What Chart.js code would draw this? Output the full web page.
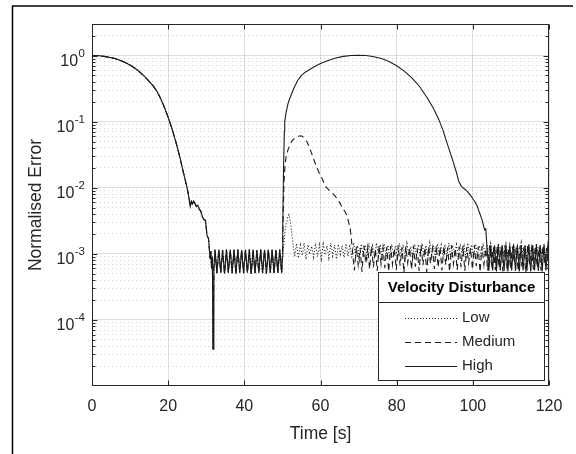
<!DOCTYPE html>
<html><head><meta charset="utf-8">
<script src="https://cdn.jsdelivr.net/npm/chart.js@4.4.1/dist/chart.umd.min.js"></script>
<style>html,body{margin:0;padding:0;background:#fff;overflow:hidden}</style>
</head><body>
<canvas id="c" width="576" height="454" style="display:block;width:576px;height:454px"></canvas>
<script>
// ---------------- DATA ----------------
const seriesNames = ['Low', 'Medium', 'High'];
const legendTitle = 'Velocity Disturbance';
const xTitle = 'Time [s]';
const yTitle = 'Normalised Error';
const xMin = 0, xMax = 120, xStep = 20;
const yMin = 1e-5, yMax = 3;
const yTickValues = [1, 1e-1, 1e-2, 1e-3, 1e-4];
const yTickExponents = ['0', '-1', '-2', '-3', '-4'];

// common part of all three runs (0 - 50 s)
const sharedT = [0,2,4,6,8,10,12,14,16,17,18,19,20,21,22,23,24,25,25.5,25.8,26.1,26.4,26.7,27,27.4,27.8,28.2,28.6,29,29.4,29.8,30.2,30.6,31,31.2,31.4,31.6,31.8,32.0,
 32.3,32.8,33.3,33.8,34.3,34.8,35.3,35.8,36.3,36.8,37.3,37.8,38.3,38.8,39.3,39.8,40.3,40.8,41.3,41.8,42.3,42.8,43.3,43.8,44.3,44.8,45.3,45.8,46.3,46.8,47.3,47.8,48.3,48.8,49.3,49.8];
const sharedV = [1.0,0.99,0.955,0.9,0.82,0.72,0.6,0.47,0.35,0.29,0.225,0.165,0.116,0.078,0.05,0.03,0.017,0.0098,0.0068,0.0052,0.0062,0.0057,0.0063,0.0058,0.0052,0.0054,0.0047,0.0044,0.0036,0.0033,0.0032,0.0019,0.0017,0.00085,0.0011,0.0006,0.0009,0.000036,0.0006,
 1.15e-3,5.1e-4,1.16e-3,5.2e-4,1.14e-3,5.0e-4,1.16e-3,5.2e-4,1.15e-3,5.1e-4,1.15e-3,5.0e-4,1.16e-3,5.2e-4,1.14e-3,5.1e-4,1.15e-3,5.2e-4,1.16e-3,5.0e-4,1.15e-3,5.1e-4,1.14e-3,5.2e-4,1.16e-3,5.1e-4,1.15e-3,5.0e-4,1.16e-3,5.2e-4,1.15e-3,5.1e-4,1.14e-3,5.2e-4,1.16e-3,5.1e-4];

// Low disturbance (after 50 s)
const lowT = [50.0,50.3,50.6,51,51.4,51.7,52,52.4,52.8,53.2,
 53.7,54.2,54.7,55.2,55.7,56.2,56.7,57.2,57.7,58.2,58.7,59.2,59.7,60.2,60.7,61.2,61.7,62.2,62.7,63.2,63.7,64.2,64.7,65.2,65.7,66.2,66.7,67.2,67.7,68.2,68.7,69.2,69.7,70.2,70.7,71.2,71.7,72.2,72.7,73.2,73.7,74.2,74.7,75.2,75.7,76.2,76.7,77.2,77.7,78.2,78.7,79.2,79.7,80.2,80.7,81.2,81.7,82.2,82.7,83.2,83.7,84.2,84.7,85.2,85.7,86.2,86.7,87.2,87.7,88.2,88.7,89.2,89.7,90.2,90.7,91.2,91.7,92.2,92.7,93.2,93.7,94.2,94.7,95.2,95.7,96.2,96.7,97.2,97.7,98.2,98.7,99.2,99.7,100.2,100.7,101.2,101.7,102.2,102.7,103.2,103.7,104.2,104.7,105.2,105.7,106.2,106.7,107.2,107.7,108.2,108.7,109.2,109.7,110.2,110.7,111.2,111.7,112.2,112.7,113.2,113.7,114.2,114.7,115.2,115.7,116.2,116.7,117.2,117.7,118.2,118.7,119.2,119.7];
const lowV = [0.0009,0.0013,0.0019,0.0029,0.0036,0.0039,0.0033,0.0022,0.0014,0.0009,
 1.42e-3,8.6e-4,1.35e-3,9.4e-4,1.46e-3,8.2e-4,1.38e-3,9.8e-4,
 1.30e-3,8.9e-4,1.44e-3,9.1e-4,1.37e-3,8.4e-4,1.41e-3,9.6e-4,
 1.33e-3,8.7e-4,1.45e-3,9.3e-4,1.36e-3,8.3e-4,1.40e-3,9.9e-4,
 1.32e-3,8.8e-4,1.43e-3,9.2e-4,1.39e-3,8.5e-4,1.47e-3,9.5e-4,
 1.34e-3,8.1e-4,1.41e-3,9.7e-4,1.36e-3,8.6e-4,1.44e-3,9.0e-4,
 1.31e-3,8.4e-4,1.46e-3,9.4e-4,1.38e-3,8.8e-4,1.42e-3,9.2e-4,
 1.35e-3,8.3e-4,1.40e-3,9.8e-4,1.33e-3,8.7e-4,1.45e-3,9.1e-4,
 1.37e-3,8.5e-4,1.43e-3,9.6e-4,1.30e-3,8.2e-4,1.41e-3,9.3e-4,
 1.39e-3,8.9e-4,1.44e-3,9.0e-4,1.34e-3,8.6e-4,1.47e-3,9.7e-4,
 1.32e-3,8.4e-4,1.42e-3,9.5e-4,1.36e-3,8.8e-4,1.40e-3,9.2e-4,
 1.45e-3,8.1e-4,1.35e-3,9.9e-4,1.38e-3,8.7e-4,1.43e-3,9.1e-4,
 1.31e-3,8.5e-4,1.46e-3,9.4e-4,1.37e-3,8.3e-4,1.41e-3,9.6e-4,
 1.34e-3,8.8e-4,1.44e-3,9.2e-4,1.39e-3,8.6e-4,1.42e-3,9.0e-4,
 1.33e-3,8.2e-4,1.45e-3,9.7e-4,1.36e-3,8.9e-4,1.40e-3,9.3e-4,
 1.38e-3,8.4e-4,1.43e-3,9.5e-4,1.32e-3,8.7e-4,1.47e-3,9.1e-4,
 1.35e-3,8.6e-4,1.41e-3,9.8e-4,1.37e-3,8.3e-4,1.44e-3,9.4e-4,
 1.36e-3,8.8e-4,1.42e-3,9.0e-4,1.39e-3];

// Medium disturbance (after 50 s)
const medT = [50.0,50.2,50.4,50.7,51,51.5,52,52.6,53.2,54,54.6,55.2,55.8,56.4,57,57.6,58.2,58.8,59.4,60,60.5,61,61.5,62,62.6,63.2,63.8,64.4,65,65.5,66,66.5,67,67.4,67.8,68.1,68.4,
 68.9,69.4,69.9,70.4,70.9,71.4,71.9,72.4,72.9,73.4,73.9,74.4,74.9,75.4,75.9,76.4,76.9,77.4,77.9,78.4,78.9,79.4,79.9,80.4,80.9,81.4,81.9,82.4,82.9,83.4,83.9,84.4,84.9,85.4,85.9,86.4,86.9,87.4,87.9,88.4,88.9,89.4,89.9,90.4,90.9,91.4,91.9,92.4,92.9,93.4,93.9,94.4,94.9,95.4,95.9,96.4,96.9,97.4,97.9,98.4,98.9,99.4,99.9,100.4,100.9,101.4,101.9,102.4,102.9,103.4,103.9,104.4,104.9,105.4,105.9,106.4,106.9,107.4,107.9,108.4,108.9,109.4,109.9,110.4,110.9,111.4,111.9,112.4,112.9,113.4,113.9,114.4,114.9,115.4,115.9,116.4,116.9,117.4,117.9,118.4,118.9,119.4,119.9];
const medV = [0.0009,0.004,0.012,0.022,0.03,0.038,0.045,0.052,0.056,0.059,0.061,0.06,0.056,0.05,0.042,0.034,0.027,0.022,0.018,0.0152,0.0135,0.0115,0.0101,0.0095,0.0088,0.0082,0.0075,0.0068,0.006,0.0053,0.0047,0.0043,0.0037,0.003,0.0024,0.0017,0.0011,
 5.6e-4,1.28e-3,6.8e-4,1.22e-3,5.3e-4,1.33e-3,7.2e-4,1.25e-3,
 5.9e-4,1.30e-3,6.3e-4,1.19e-3,5.5e-4,1.35e-3,7.0e-4,1.24e-3,
 6.1e-4,1.27e-3,5.4e-4,1.31e-3,6.9e-4,1.21e-3,5.7e-4,1.34e-3,
 6.6e-4,1.26e-3,5.2e-4,1.29e-3,7.3e-4,1.23e-3,5.8e-4,1.32e-3,
 6.4e-4,1.20e-3,5.5e-4,1.36e-3,6.7e-4,1.25e-3,5.3e-4,1.30e-3,
 7.1e-4,1.22e-3,5.9e-4,1.33e-3,6.2e-4,1.27e-3,5.6e-4,1.31e-3,
 6.8e-4,1.24e-3,5.4e-4,1.34e-3,7.0e-4,1.21e-3,5.7e-4,1.29e-3,
 6.3e-4,1.32e-3,5.5e-4,1.26e-3,7.2e-4,1.23e-3,5.8e-4,1.35e-3,
 6.5e-4,1.28e-3,5.3e-4,1.30e-3,6.9e-4,1.20e-3,5.6e-4,1.33e-3,
 7.0e-4,1.25e-3,5.7e-4,1.31e-3,6.1e-4,1.27e-3,5.4e-4,1.34e-3,
 6.7e-4,1.22e-3,5.9e-4,1.29e-3,7.1e-4,1.24e-3,5.5e-4,1.32e-3,
 6.4e-4,1.26e-3,5.2e-4,1.35e-3,6.8e-4,1.21e-3,5.8e-4,1.30e-3,
 6.2e-4,1.28e-3,5.6e-4,1.33e-3,7.0e-4,1.23e-3,5.5e-4];

// High disturbance (after 50 s)
const highT = [50.0,50.1,50.3,50.5,50.6,51,51.5,52,53,54,55,56,58,60,62,64,66,68,70,72,74,76,78,80,82,84,86,88,89.5,91,92.2,93,93.9,94.8,95.7,96.3,97,97.6,98.2,98.7,99.3,100,100.5,101.2,101.8,102.4,103.1,103.4,103.7,
 104.2,104.7,105.2,105.7,106.2,106.7,107.2,107.7,108.2,108.7,109.2,109.7,110.2,110.7,111.2,111.7,112.2,112.7,113.2,113.7,114.2,114.7,115.2,115.7,116.2,116.7,117.2,117.7,118.2,118.7,119.2,119.7,120];
const highV = [0.0009,0.003,0.02,0.07,0.1,0.14,0.19,0.23,0.32,0.42,0.5,0.56,0.66,0.76,0.84,0.92,0.97,1.0,1.01,1.0,0.96,0.9,0.81,0.7,0.58,0.46,0.34,0.23,0.165,0.11,0.073,0.052,0.036,0.025,0.017,0.0125,0.0105,0.0098,0.0092,0.0086,0.0078,0.0068,0.0062,0.0052,0.0041,0.0033,0.0023,0.0024,0.0013,
 5.5e-4,1.36e-3,5.6e-4,1.34e-3,5.4e-4,1.37e-3,5.6e-4,1.35e-3,5.5e-4,1.36e-3,5.4e-4,1.34e-3,5.6e-4,1.37e-3,5.5e-4,1.35e-3,5.4e-4,1.36e-3,5.6e-4,1.34e-3,5.5e-4,1.37e-3,5.4e-4,1.35e-3,5.6e-4,1.36e-3,5.5e-4,1.34e-3,5.4e-4,1.37e-3,5.6e-4,1.35e-3,1.0e-3];

// ---------------- STYLE ----------------
const FONT = '"Liberation Sans", Arial, Helvetica, sans-serif';
const AXIS_COLOR = '#262626';
const LINE_COLOR = '#1c1c1c';
const GRID_MAJOR = 'rgba(38,38,38,0.15)';
const GRID_MINOR = 'rgba(38,38,38,0.2)';
const dashes = [[1, 2], [6, 4], []];

function pts(t, v) { const n = Math.min(t.length, v.length); const out = []; for (let i = 0; i < n; i++) out.push({x: t[i], y: v[i]}); return out; }
const tails = [[lowT, lowV], [medT, medV], [highT, highV]];
const datasets = seriesNames.map((name, i) => ({
  label: name,
  data: pts(sharedT.concat(tails[i][0]), sharedV.concat(tails[i][1])),
  borderColor: LINE_COLOR, borderWidth: 1.1, borderDash: dashes[i],
  pointRadius: 0, tension: 0, fill: false
}));

const isDecade = v => Math.abs(Math.log10(v) - Math.round(Math.log10(v))) < 1e-9;
const yGrid = [];
for (let k = -5; k <= 0; k++) for (let m = 1; m <= 9; m++) { const v = m * Math.pow(10, k); if (v > yMin * 1.0001 && v < yMax * 0.9999) yGrid.push(+v.toPrecision(6)); }

const decor = {
  id: 'decor',
  beforeDraw(chart) { const c = chart.ctx; c.save(); c.fillStyle = '#fff'; c.fillRect(0, 0, chart.width, chart.height); c.restore(); },
  afterDatasetsDraw(chart) {
    const c = chart.ctx, a = chart.chartArea, xs = chart.scales.x, ys = chart.scales.y;
    const L = Math.round(a.left) + 0.5, R = Math.round(a.right) - 0.5, T = Math.round(a.top) + 0.5, B = Math.round(a.bottom) - 0.5;
    c.save();
    c.strokeStyle = AXIS_COLOR; c.lineWidth = 1; c.setLineDash([]);
    c.strokeRect(L, T, R - L, B - T);
    c.beginPath();
    xs.ticks.forEach(tk => { const x = Math.round(xs.getPixelForValue(tk.value)) + 0.5; c.moveTo(x, B); c.lineTo(x, B - 5); c.moveTo(x, T); c.lineTo(x, T + 5); });
    yGrid.forEach(v => { const y = Math.round(ys.getPixelForValue(v)) + 0.5; const len = isDecade(v) ? 5 : 3; c.moveTo(L, y); c.lineTo(L + len, y); c.moveTo(R, y); c.lineTo(R - len, y); });
    c.stroke();
    c.restore();
  },
  afterDraw(chart) {
    const c = chart.ctx, ys = chart.scales.y;
    c.save();
    // y tick labels 10^n
    c.fillStyle = AXIS_COLOR; c.textBaseline = 'alphabetic'; c.textAlign = 'left';
    const xr = 85;
    yTickValues.forEach((v, i) => {
      const y = ys.getPixelForValue(v);
      c.font = '11.5px ' + FONT; const sw = c.measureText(yTickExponents[i]).width;
      c.font = '16px ' + FONT; const bw = c.measureText('10').width;
      c.fillText('10', xr - sw - bw - 0.5, y + 10);
      c.font = '11.5px ' + FONT; c.fillText(yTickExponents[i], xr - sw, y + 1.5);
    });
    // legend
    const lx0 = 378.5, lx1 = 544.5, ly0 = 272.5, ly1 = 380.5, sep = 302.5;
    c.fillStyle = '#fff'; c.fillRect(lx0, ly0, lx1 - lx0, ly1 - ly0);
    c.strokeStyle = AXIS_COLOR; c.lineWidth = 1; c.setLineDash([]);
    c.strokeRect(lx0, ly0, lx1 - lx0, ly1 - ly0);
    c.beginPath(); c.moveTo(lx0, sep); c.lineTo(lx1, sep); c.stroke();
    c.fillStyle = '#000'; c.font = 'bold 15px ' + FONT; c.textAlign = 'center'; c.textBaseline = 'middle';
    c.fillText(legendTitle, (lx0 + lx1) / 2, 288);
    const rowsY = [318, 342, 366];
    chart.data.datasets.forEach((ds, i) => {
      const y = Math.round(rowsY[i]) + 0.5;
      c.strokeStyle = ds.borderColor; c.lineWidth = ds.borderWidth; c.setLineDash(ds.borderDash);
      c.beginPath(); c.moveTo(405, y); c.lineTo(457, y); c.stroke();
      c.setLineDash([]);
      c.fillStyle = AXIS_COLOR; c.font = '15px ' + FONT; c.textAlign = 'left'; c.textBaseline = 'middle';
      c.fillText(ds.label, 462, rowsY[i]);
    });
    // outer figure frame
    c.strokeStyle = '#000'; c.lineWidth = 1.5; c.setLineDash([]);
    c.beginPath(); c.moveTo(12.5, 460); c.lineTo(12.5, 6); c.lineTo(573, 6); c.stroke();
    c.restore();
  }
};

new Chart(document.getElementById('c'), {
  type: 'line',
  data: { datasets },
  options: {
    responsive: false, animation: false, devicePixelRatio: 1,
    layout: { padding: { left: 0, right: 27, top: 24, bottom: 0 } },
    plugins: { legend: { display: false }, tooltip: { enabled: false } },
    scales: {
      x: {
        type: 'linear', min: xMin, max: xMax,
        ticks: { stepSize: xStep, color: AXIS_COLOR, font: { family: FONT, size: 16 }, padding: 11, maxRotation: 0 },
        grid: { color: GRID_MAJOR, lineWidth: 1, drawTicks: false },
        border: { display: false },
        title: { display: true, text: xTitle, color: AXIS_COLOR, font: { family: FONT, size: 17.5 }, padding: { top: 0, bottom: 9 } },
        afterFit(s) { s.height = 68; }
      },
      y: {
        type: 'logarithmic', min: yMin, max: yMax,
        afterBuildTicks(s) { s.ticks = yGrid.map(v => ({ value: v })); },
        ticks: { display: false, autoSkip: false },
        grid: {
          drawTicks: false, lineWidth: 1,
          color: ctx => (ctx.tick && isDecade(ctx.tick.value)) ? GRID_MAJOR : GRID_MINOR
        },
        border: { display: false, dash: ctx => (ctx.tick && !isDecade(ctx.tick.value)) ? [1, 3] : [] },
        title: { display: true, text: yTitle, color: AXIS_COLOR, font: { family: FONT, size: 17.5 }, padding: { top: 26, bottom: 0 } },
        afterFit(s) { s.width = 92; }
      }
    }
  },
  plugins: [decor]
});
</script>
</body></html>
